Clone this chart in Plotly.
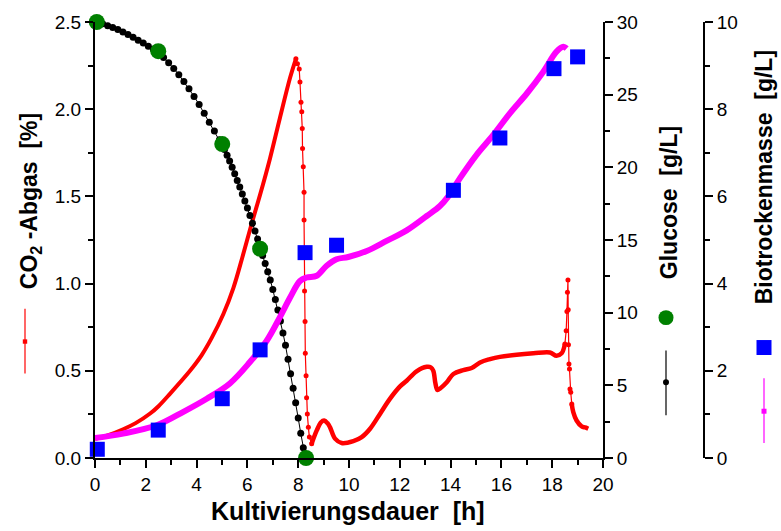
import plotly.graph_objects as go

# ---------------- data ----------------
# CO2 off-gas [%]  (left axis)
co2_grow_t = [0.0, 0.5, 1.11, 1.6, 2.17, 2.5, 2.95, 3.74, 4.2, 4.6, 5.05, 5.45, 5.8, 6.17, 6.5, 6.89, 7.28, 7.68, 7.91]
co2_grow_v = [0.11, 0.13, 0.165, 0.2, 0.255, 0.297, 0.368, 0.50, 0.59, 0.69, 0.824, 0.976, 1.15, 1.345, 1.51, 1.718, 1.95, 2.18, 2.289]

co2_drop_t = [7.91, 7.97, 8.04, 8.07, 8.11, 8.14, 8.16, 8.17, 8.20, 8.23, 8.23, 8.24, 8.25, 8.27, 8.28, 8.31, 8.33, 8.36, 8.40, 8.44, 8.53]
co2_drop_v = [2.289, 2.26, 2.23, 2.156, 2.04, 1.985, 1.89, 1.775, 1.67, 1.524, 1.364, 1.16, 0.957, 0.782, 0.60, 0.472, 0.345, 0.253, 0.177, 0.12, 0.082]

co2_late_t = [8.53, 8.73, 8.90, 9.02, 9.15, 9.25, 9.45, 9.71, 10.17, 10.5, 10.83, 11.22, 11.61, 12.0, 12.27, 12.66, 13.06, 13.22, 13.32, 13.40, 13.48, 13.60, 13.85, 14.11, 14.5, 14.83, 15.16, 15.55, 15.94, 16.6, 17.26, 17.91, 18.17, 18.37, 18.50]
co2_late_v = [0.082, 0.158, 0.205, 0.215, 0.20, 0.177, 0.111, 0.086, 0.097, 0.12, 0.168, 0.253, 0.339, 0.409, 0.443, 0.497, 0.523, 0.52, 0.50, 0.43, 0.39, 0.40, 0.434, 0.482, 0.504, 0.516, 0.548, 0.567, 0.58, 0.592, 0.60, 0.605, 0.586, 0.60, 0.653]

co2_spike_t = [18.50, 18.55, 18.58, 18.60, 18.62, 18.63, 18.64, 18.66, 18.68, 18.70, 18.73, 18.77]
co2_spike_v = [0.653, 0.73, 0.84, 0.95, 1.02, 0.85, 0.65, 0.539, 0.51, 0.396, 0.377, 0.31]

co2_tail_t = [18.77, 18.83, 18.96, 19.16, 19.30, 19.42]
co2_tail_v = [0.31, 0.263, 0.215, 0.181, 0.175, 0.168]

# Glucose [g/L] (first right axis) - online estimate
glc_online_t = [0.07, 0.3, 0.5, 0.7, 0.9, 1.1, 1.3, 1.5, 1.7, 1.9, 2.1, 2.3, 2.5, 2.7, 2.9, 3.1, 3.3, 3.5, 3.7, 3.9,
                4.1, 4.3, 4.5, 4.7, 4.9, 5.0, 5.1, 5.2, 5.3, 5.4, 5.5, 5.6, 5.7, 5.8, 5.9, 6.0, 6.1, 6.2, 6.3, 6.4,
                6.5, 6.6, 6.7, 6.8, 6.9, 7.0, 7.1, 7.2, 7.3, 7.4, 7.5, 7.6, 7.7, 7.8, 7.9, 8.0, 8.1, 8.2, 8.25]
glc_online_v = [30.0, 29.88, 29.75, 29.62, 29.48, 29.32, 29.14, 28.95, 28.75, 28.55, 28.34, 28.12, 27.9, 27.55, 27.2,
                26.8, 26.37, 25.9, 25.4, 24.88, 24.32, 23.72, 23.1, 22.5, 21.9, 21.6, 21.22, 20.83, 20.44, 20.0, 19.56,
                19.1, 18.64, 18.16, 17.68, 17.2, 16.68, 16.16, 15.62, 15.07, 14.5, 13.94, 13.38, 12.82, 12.25, 11.6,
                10.9, 10.18, 9.43, 8.6, 7.75, 6.8, 5.8, 4.8, 3.8, 2.75, 1.7, 0.7, 0.3]

# Glucose offline samples
glc_offline_t = [0.07, 2.49, 5.01, 6.5, 8.31]
glc_offline_v = [30.0, 27.99, 21.6, 14.4, 0.0]

# Biotrockenmasse [g/L] (second right axis)
btm_online_t = [0.0, 1.11, 2.43, 3.48, 4.40, 5.31, 6.10, 6.76, 7.28, 7.68, 8.07, 8.33, 8.73, 9.12, 9.51, 9.97, 10.70,
                11.48, 12.27, 13.06, 13.58, 13.91, 14.37, 15.03, 15.68, 16.34, 17.0, 17.65, 18.17, 18.44, 18.57]
btm_online_v = [0.46, 0.56, 0.75, 1.06, 1.36, 1.71, 2.20, 2.69, 3.23, 3.68, 4.06, 4.14, 4.18, 4.41, 4.56, 4.61, 4.75,
                4.98, 5.22, 5.55, 5.78, 6.0, 6.42, 6.96, 7.41, 7.91, 8.36, 8.86, 9.32, 9.43, 9.39]

btm_offline_t = [0.09, 2.49, 5.01, 6.5, 8.27, 9.51, 14.11, 15.94, 18.07, 19.0]
btm_offline_v = [0.2, 0.64, 1.36, 2.48, 4.71, 4.88, 6.14, 7.34, 8.93, 9.2]

# axis settings
x_range = [0, 20]
co2_range = [0, 2.5]
glc_range = [0, 30]
btm_range = [0, 10]

# ---------------- layout geometry ----------------
W, H = 781, 531
ML, MR, MT, MB = 95, 77, 20, 73
PW = W - ML - MR
PH = H - MT - MB
X_RIGHT = 603  # pixel of glucose axis


def px(xp):
    return (xp - ML) / PW


def py(yp):
    return (H - MB - yp) / PH


FONT = "Liberation Sans, Arial, sans-serif"
RED = "#FF0000"
MAG = "#FF00FF"
BLUE = "#0000FF"
GREEN = "#008000"

fig = go.Figure()

# CO2 traces
fig.add_trace(go.Scatter(x=co2_grow_t, y=co2_grow_v, mode="lines", line=dict(color=RED, width=4, shape="spline"),
                         yaxis="y", cliponaxis=False, showlegend=False))
fig.add_trace(go.Scatter(x=co2_drop_t, y=co2_drop_v, mode="lines+markers", line=dict(color=RED, width=1.2),
                         marker=dict(color=RED, size=5), yaxis="y", showlegend=False))
fig.add_trace(go.Scatter(x=co2_late_t, y=co2_late_v, mode="lines", line=dict(color=RED, width=4.5, shape="spline"),
                         yaxis="y", showlegend=False))
fig.add_trace(go.Scatter(x=co2_spike_t, y=co2_spike_v, mode="lines+markers", line=dict(color=RED, width=1.2),
                         marker=dict(color=RED, size=5), yaxis="y", showlegend=False))
fig.add_trace(go.Scatter(x=co2_tail_t, y=co2_tail_v, mode="lines", line=dict(color=RED, width=4.5, shape="spline"),
                         yaxis="y", showlegend=False))

# Glucose
fig.add_trace(go.Scatter(x=glc_online_t, y=glc_online_v, mode="lines+markers", line=dict(color="black", width=1),
                         marker=dict(color="black", size=7), yaxis="y2", cliponaxis=False, showlegend=False))
fig.add_trace(go.Scatter(x=glc_offline_t, y=glc_offline_v, mode="markers",
                         marker=dict(color=GREEN, size=16, line=dict(width=0)), yaxis="y2", cliponaxis=False,
                         showlegend=False))

# Biomass
fig.add_trace(go.Scatter(x=btm_online_t, y=btm_online_v, mode="lines", line=dict(color=MAG, width=6, shape="spline"),
                         yaxis="y3", cliponaxis=False, showlegend=False))
fig.add_trace(go.Scatter(x=btm_offline_t, y=btm_offline_v, mode="markers",
                         marker=dict(color=BLUE, size=15, symbol="square", line=dict(width=0)), yaxis="y3",
                         cliponaxis=False, showlegend=False))

axis_common = dict(showgrid=False, zeroline=False, showline=True, linecolor="black", linewidth=2,
                   ticks="outside", ticklen=8, tickwidth=1.5, tickcolor="black",
                   tickfont=dict(family=FONT, size=19, color="black"))

fig.update_layout(
    width=W, height=H,
    margin=dict(l=ML, r=MR, t=MT, b=MB),
    paper_bgcolor="white", plot_bgcolor="white",
    showlegend=False,
    xaxis=dict(domain=[0, px(X_RIGHT)], range=x_range, tick0=0, dtick=2, anchor="y",
               minor=dict(dtick=1, ticks="outside", ticklen=5, tickwidth=1.5, tickcolor="black"), **axis_common),
    yaxis=dict(range=co2_range, tick0=0, dtick=0.5, tickformat=".1f", anchor="x",
               minor=dict(dtick=0.25, ticks="outside", ticklen=5, tickwidth=1.5, tickcolor="black"), **axis_common),
    yaxis2=dict(range=glc_range, tick0=0, dtick=5, overlaying="y", side="right", anchor="x",
                minor=dict(dtick=2.5, ticks="outside", ticklen=5, tickwidth=1.5, tickcolor="black"), **axis_common),
    yaxis3=dict(range=btm_range, tick0=0, dtick=2, overlaying="y", side="right", anchor="free", position=1.0,
                minor=dict(dtick=1, ticks="outside", ticklen=5, tickwidth=1.5, tickcolor="black"), **axis_common),
)

TF = dict(family=FONT, size=23, color="black")
ann = [
    dict(text="<b>CO<sub>2</sub> -Abgas\u00a0\u00a0[%]</b>", x=px(30), y=py(200), textangle=-90, font=TF),
    dict(text="<b>Glucose\u00a0\u00a0[g/L]</b>", x=px(669), y=py(202), textangle=-90, font=TF),
    dict(text="<b>Biotrockenmasse\u00a0\u00a0[g/L]</b>", x=px(764), y=py(176), textangle=-90, font=TF),
    dict(text="<b>Kultivierungsdauer\u00a0\u00a0[h]</b>", x=px(348), y=py(511), textangle=0,
         font=dict(family=FONT, size=25, color="black")),
]
for a in ann:
    fig.add_annotation(xref="paper", yref="paper", showarrow=False, xanchor="center", yanchor="middle", **a)

# legend-like symbols next to axis titles
shapes = []


def vline(xp, y0, y1, color, w=1.2):
    shapes.append(dict(type="line", xref="paper", yref="paper", x0=px(xp), x1=px(xp), y0=py(y0), y1=py(y1),
                       line=dict(color=color, width=w)))


def box(xp, yp, half, color, kind="rect"):
    shapes.append(dict(type=kind, xref="paper", yref="paper", x0=px(xp - half), x1=px(xp + half),
                       y0=py(yp + half), y1=py(yp - half), fillcolor=color, line=dict(width=0)))


vline(25, 308, 373, RED)
box(25, 341, 2.2, RED)
box(666, 317, 7.5, GREEN, "circle")
vline(666, 350, 415, "black")
box(666, 382, 3, "black", "circle")
box(764, 347, 7.5, BLUE)
vline(764, 378, 443, MAG)
box(764, 411, 2.5, MAG)
fig.update_layout(shapes=shapes)

fig.write_html("out.html")
